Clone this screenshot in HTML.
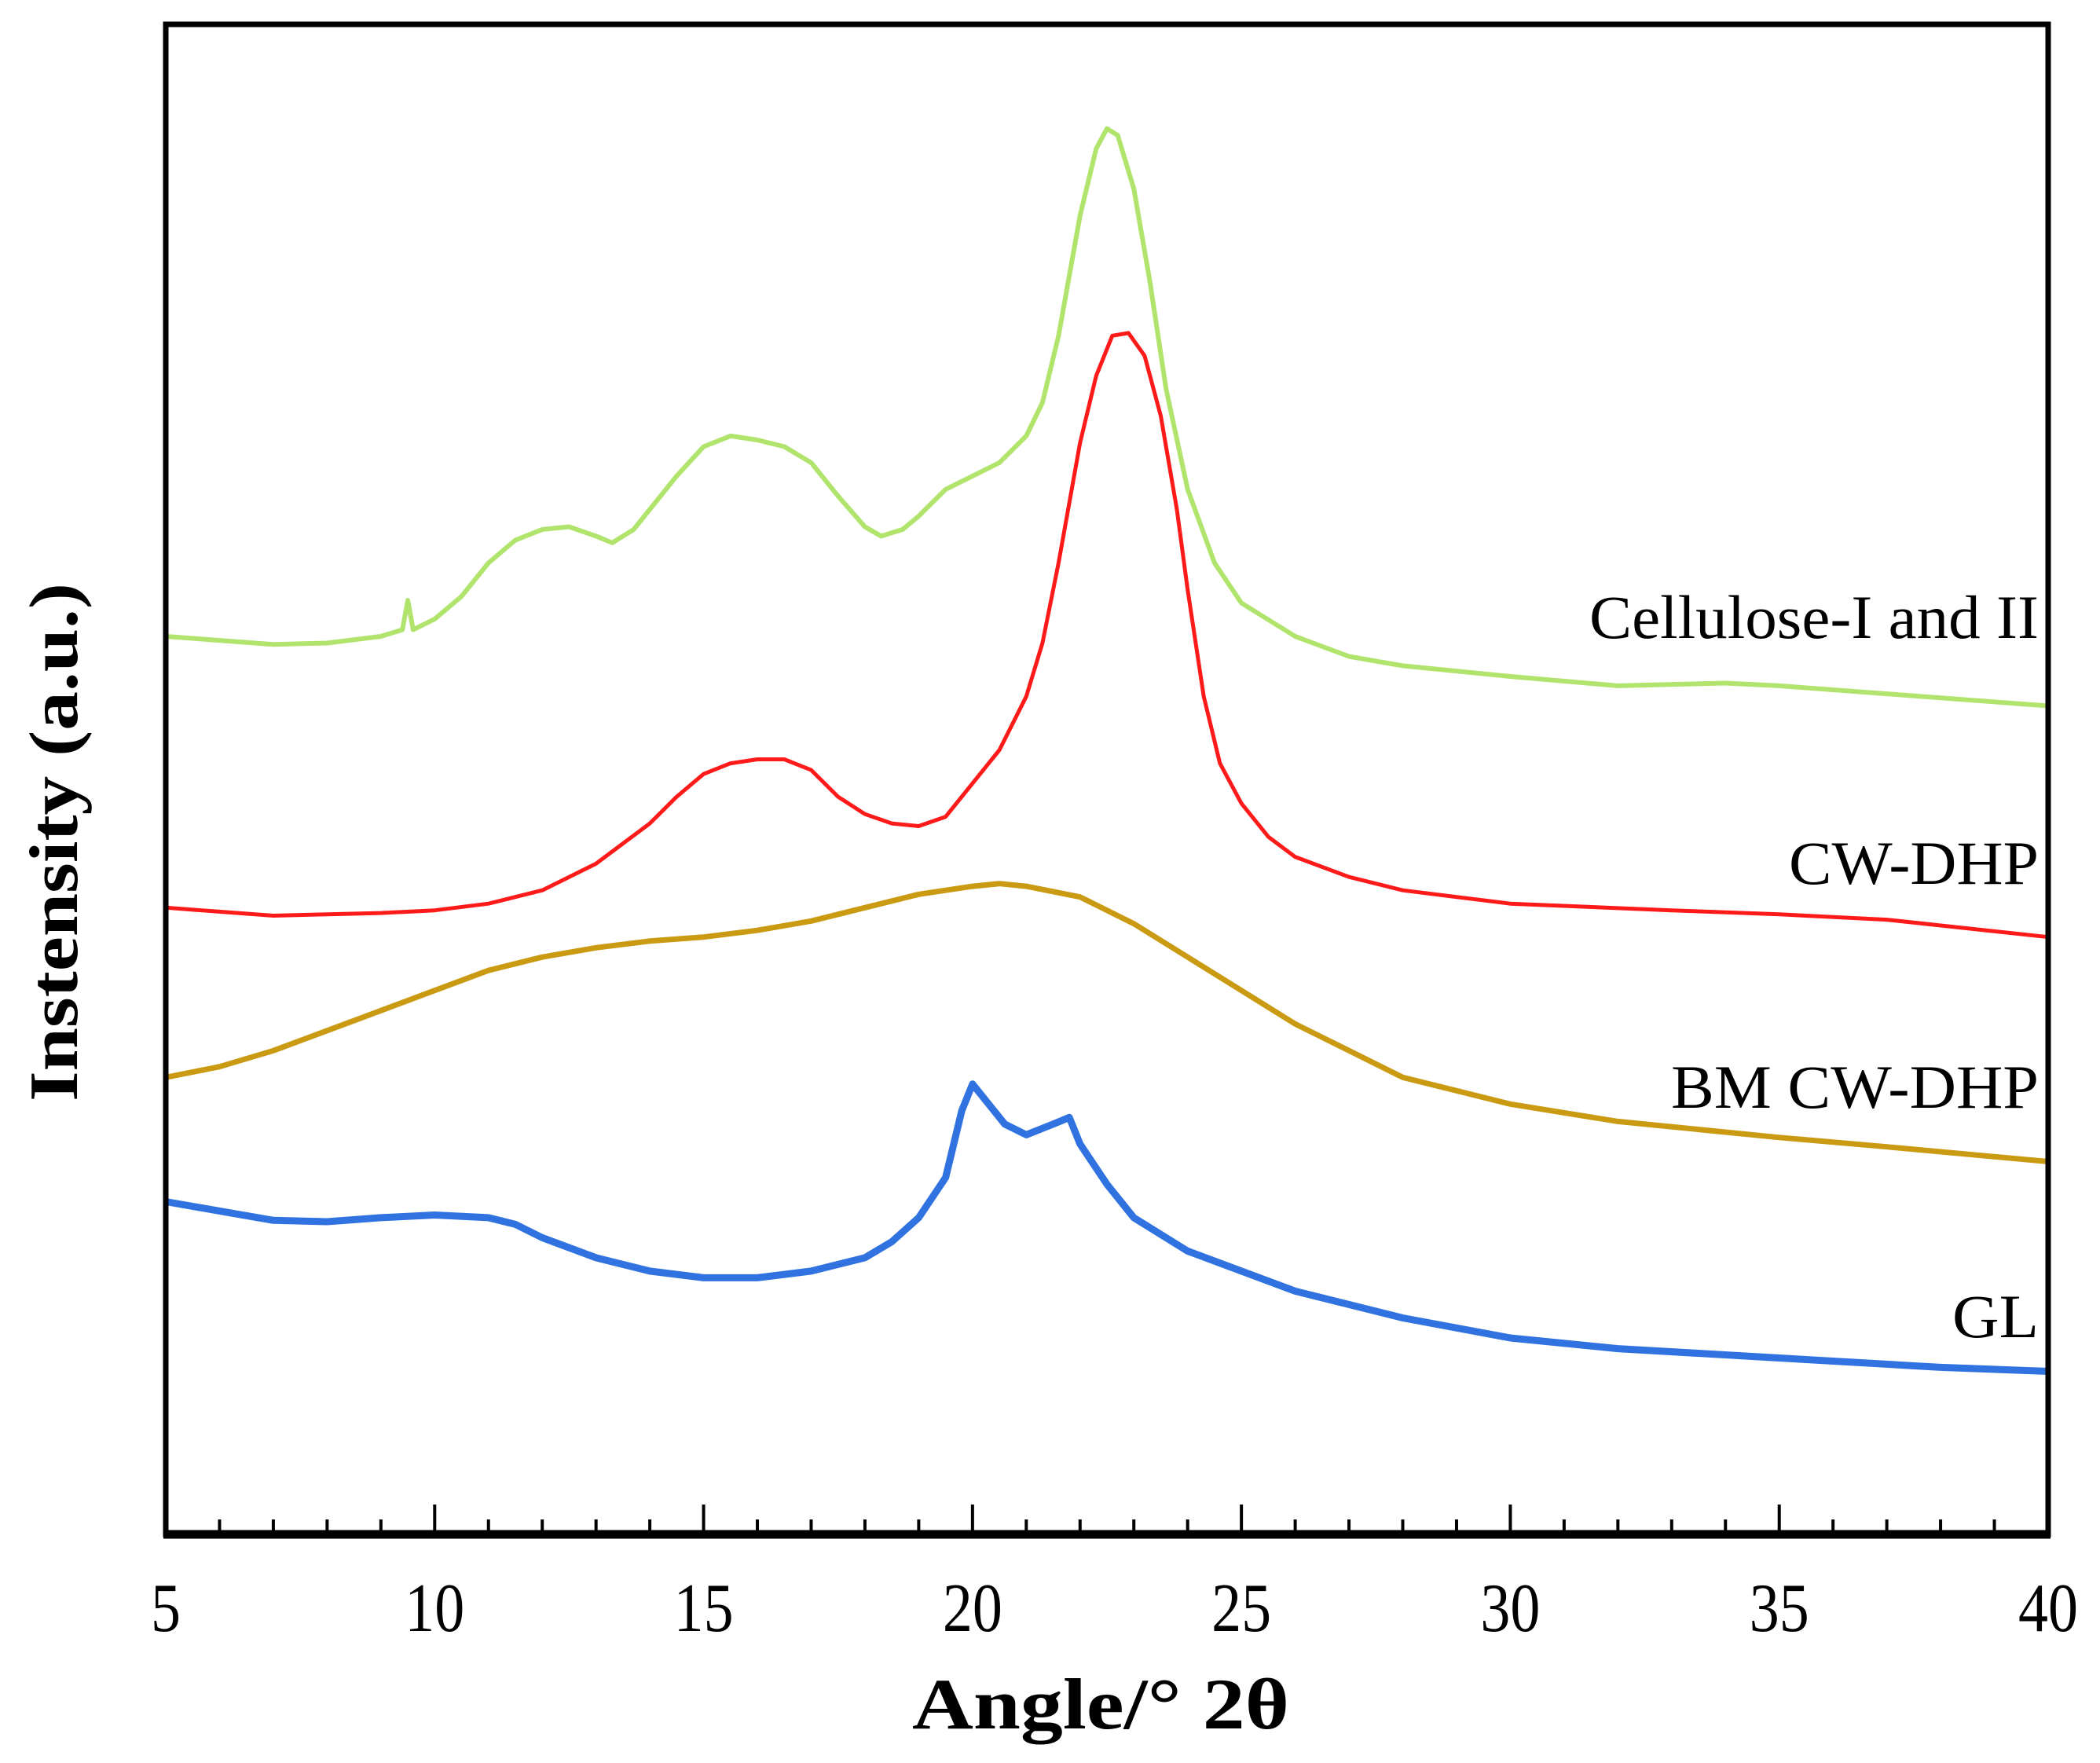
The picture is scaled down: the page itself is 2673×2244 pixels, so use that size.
<!DOCTYPE html>
<html><head><meta charset="utf-8"><style>
html,body{margin:0;padding:0;background:#fff;}
svg{display:block;}
text{font-family:"Liberation Serif",serif;fill:#000;}
</style></head><body>
<svg id="chart" width="2673" height="2244" viewBox="0 0 2673 2244" xmlns="http://www.w3.org/2000/svg">
<g id="series"></g>
<g id="axes"></g>
</svg>
<script>
// x values (2θ) and intensity values (arbitrary units) per series
const celX = [5,6,7,8,9,9.4,9.5,9.6,10,10.5,11,11.5,12,12.5,13,13.3,13.7,14,14.5,15,15.5,16,16.5,17,17.5,18,18.3,18.7,19,19.5,20,20.5,21,21.3,21.6,22,22.3,22.5,22.7,23,23.3,23.6,24,24.5,25,26,27,28,30,32,34,35,37,40];
const celY = [672,669,666,667,672,677,699,677,685,702,727,744,752,754,747,742,752,767,792,814,822,819,814,802,777,754,747,752,762,782,792,802,822,847,897,987,1037,1052,1047,1007,937,857,782,727,697,672,657,650,642,635,637,635,629,620];
const cwX = [5,7,9,10,11,12,13,14,14.5,15,15.5,16,16.5,17,17.5,18,18.5,19,19.5,20,20.5,21,21.3,21.6,22,22.3,22.6,22.9,23.2,23.5,23.8,24,24.3,24.6,25,25.5,26,27,28,30,33,35,37,40];
const cwY = [469,463,465,467,472,482,502,532,552,569,577,580,580,572,552,539,532,530,537,562,587,627,667,727,817,867,897,899,882,837,767,707,627,577,547,522,507,492,482,472,467,464,460,447];
const bmX = [5,6,7,8,9,10,11,12,13,14,15,16,17,18,19,20,20.5,21,22,23,24,25,26,27,28,30,32,35,37,40];
const bmY = [342,350,362,377,392,407,422,432,439,444,447,452,459,469,479,485,487,485,477,457,432,407,382,362,342,322,309,297,290,279];
const glX = [5,6,7,8,9,10,11,11.5,12,13,14,15,16,17,18,18.5,19,19.5,19.8,20,20.3,20.6,21,21.5,21.8,22,22.5,23,24,25,26,28,30,32,35,38,40];
const glY = [249,242,235,234,237,239,237,232,222,207,197,192,192,197,207,219,237,267,317,337,322,307,299,307,312,292,262,237,212,197,182,162,147,139,132,125,122];
const tickLabels = ["5","10","15","20","25","30","35","40"];
const seriesNames = ["Cellulose-I and II","CW-DHP","BM CW-DHP","GL"];

const L=211, R=2607, T=31, B=1953;
const xMin=5, xMax=40, yMin=0, yMax=1130;
function sx(v){return L+(v-xMin)/(xMax-xMin)*(R-L);}
function sy(v){return B-(v-yMin)/(yMax-yMin)*(B-T);}
const NS="http://www.w3.org/2000/svg";
function mk(tag,attrs,parent){const e=document.createElementNS(NS,tag);for(const k in attrs)e.setAttribute(k,attrs[k]);parent.appendChild(e);return e;}

const sg=document.getElementById('series');
function drawLine(xs,ys,color,w,name){
  let d='';
  for(let i=0;i<xs.length;i++){d+=(i?'L':'M')+sx(xs[i]).toFixed(1)+','+sy(ys[i]).toFixed(1);}
  const p=mk('path',{d:d,fill:'none',stroke:color,'stroke-width':w,'stroke-linejoin':'round'},sg);
  
  
}
drawLine(celX,celY,'#b0e46c',6,'cellulose-line');
drawLine(cwX,cwY,'#ff1a1a',5,'cw-dhp-line');
drawLine(bmX,bmY,'#c99a12',7,'bm-cw-dhp-line');
drawLine(glX,glY,'#2f72e0',9,'gl-line');

const ag=document.getElementById('axes');
const frame=mk('rect',{x:L,y:T,width:R-L,height:B-T,fill:'none',stroke:'#000','stroke-width':7},ag);


const bl=mk('line',{x1:L-3,y1:B,x2:R+3,y2:B,stroke:'#000','stroke-width':11},ag);


for(let v=5;v<=40.001;v+=1){
  const major=(Math.round(v)%5===0);
  if(v===5||v===40)continue;
  const t=mk('line',{x1:sx(v),y1:B,x2:sx(v),y2:B-(major?38:19),stroke:'#000','stroke-width':4},ag);
  
  
}
tickLabels.forEach(function(s){
  const t=mk('text',{x:sx(+s),y:2076,'text-anchor':'middle','font-size':88,textLength:(s.length*38),lengthAdjust:'spacingAndGlyphs'},ag);
  t.textContent=s;
  
  
});
const xt=mk('text',{x:1401,y:2200,'text-anchor':'middle','font-size':92,'font-weight':'bold',textLength:480,lengthAdjust:'spacingAndGlyphs'},ag);
xt.textContent='Angle/°  2θ';


const yt=mk('text',{x:0,y:0,'text-anchor':'middle','font-size':88,'font-weight':'bold',textLength:660,lengthAdjust:'spacingAndGlyphs',transform:'translate(98,1072) rotate(-90)'},ag);
yt.textContent='Instensity (a.u.)';


const labY=[812,1125,1410,1702];
const labW=[572,318,468,110];
const labNames=['label-cellulose','label-cw-dhp','label-bm-cw-dhp','label-gl'];
seriesNames.forEach(function(s,i){
  const t=mk('text',{x:2595,y:labY[i],'text-anchor':'end','font-size':78,textLength:labW[i],lengthAdjust:'spacingAndGlyphs'},ag);
  t.textContent=s;
  
  
});
</script>
</body></html>
